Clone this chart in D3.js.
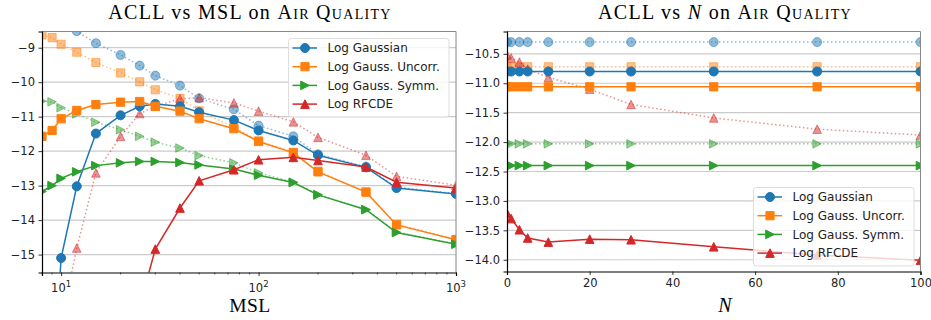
<!DOCTYPE html>
<html>
<head>
<meta charset="utf-8">
<script src="https://cdn.jsdelivr.net/npm/d3@7"></script>
<style>
  body { margin: 0; background: #fff; }
  svg { display: block; }
</style>
</head>
<body>
<svg id="chart" width="931" height="320"></svg>
<script>
// ---- data ----
var msl = [8, 9, 10, 12, 15, 20, 25, 30, 40, 50, 75, 100, 150, 200, 350, 500, 1000];

var gaussMsl    = [null, -19.0, -15.10, -13.02, -11.49, -10.96, -10.70, -10.63, -10.70, -10.87, -11.10, -11.40, -11.69, -12.12, -12.47, -13.07, -13.24];
var gaussMslDot = [-7.9, -8.0, -8.2, -8.52, -8.87, -9.21, -9.52, -9.81, -10.10, -10.47, -10.79, -11.26, -11.57, -12.09, -12.45, -13.05, -13.23];
var uncMsl      = [-11.57, -11.40, -11.06, -10.82, -10.65, -10.58, -10.56, -10.70, -10.84, -11.06, -11.35, -11.72, -12.05, -12.60, -13.19, -14.14, -14.57];
var uncMslDot   = [-8.63, -8.71, -8.90, -9.13, -9.43, -9.73, -9.99, -10.22, -10.47, -10.83, -11.30, -11.70, -12.03, -12.58, -13.18, -14.12, -14.56];
var symMsl      = [-13.17, -13.00, -12.79, -12.60, -12.42, -12.34, -12.30, -12.30, -12.33, -12.40, -12.52, -12.70, -12.91, -13.27, -13.70, -14.36, -14.70];
var symMslDot   = [-10.55, -10.57, -10.74, -10.92, -11.16, -11.38, -11.57, -11.74, -11.91, -12.13, -12.34, -12.63, -12.90, -13.26, -13.69, -14.35, -14.69];
var rfcdeMsl    = [null, null, null, null, null, null, -16.5, -14.84, -13.65, -12.86, -12.54, -12.25, -12.18, -12.27, -12.46, -12.90, -13.07];
var rfcdeMslDot = [null, null, -17.0, -14.81, -12.63, -11.57, -10.91, -10.70, -10.48, -10.45, -10.60, -10.84, -11.15, -11.60, -12.12, -12.73, -12.99];

var nVals = [0, 1, 3, 5, 10, 20, 30, 50, 75, 100];

var gaussN    = [-10.80, -10.80, -10.80, -10.80, -10.80, -10.80, -10.80, -10.80, -10.80, -10.80];
var gaussNDot = [-10.30, -10.30, -10.30, -10.30, -10.30, -10.30, -10.30, -10.30, -10.30, -10.30];
var uncN      = [-11.06, -11.06, -11.06, -11.06, -11.06, -11.06, -11.06, -11.06, -11.06, -11.06];
var uncNDot   = [-10.72, -10.72, -10.72, -10.72, -10.72, -10.72, -10.72, -10.72, -10.72, -10.72];
var symN      = [-12.40, -12.40, -12.40, -12.40, -12.40, -12.40, -12.40, -12.40, -12.40, -12.40];
var symNDot   = [-12.03, -12.03, -12.03, -12.03, -12.03, -12.03, -12.03, -12.03, -12.03, -12.03];
var rfcdeN    = [-13.21, -13.30, -13.49, -13.63, -13.70, -13.65, -13.66, -13.78, -13.92, -14.01];
var rfcdeNDot = [-10.52, -10.57, -10.64, -10.76, -10.90, -11.10, -11.36, -11.59, -11.78, -11.88];

var names = ["Log Gaussian", "Log Gauss. Uncorr.", "Log Gauss. Symm.", "Log RFCDE"];
var colors = ["#1f77b4", "#ff7f0e", "#2ca02c", "#d62728"];
var shapes = ["circle", "square", "triRight", "triUp"];

var leftTicksY = [-9, -10, -11, -12, -13, -14, -15];
var rightTicksY = [-10.5, -11.0, -11.5, -12.0, -12.5, -13.0, -13.5, -14.0];
var rightTicksX = [0, 20, 40, 60, 80, 100];

var svg = d3.select("#chart");
var tickFont = "'DejaVu Sans', sans-serif";
var serif = "'Liberation Serif', serif";

// marker shapes, roughly matplotlib markersize 8
function markerPath(shape) {
  if (shape == "circle") return d3.symbol(d3.symbolCircle, 64)();
  if (shape == "square") return "M-4.1,-4.1H4.1V4.1H-4.1Z";
  if (shape == "triRight") return "M4.3,0L-4.3,-4.3L-4.3,4.3Z";
  return "M0,-4.3L4.3,4.3L-4.3,4.3Z";
}

function drawPanel(opt) {
  var g = svg.append("g");
  var x = opt.x, y = opt.y;
  var x0 = x.range()[0], x1 = x.range()[1];
  var y0 = y.range()[1], y1 = y.range()[0];

  var clipId = "clip" + opt.id;
  svg.append("clipPath").attr("id", clipId)
    .append("rect").attr("x", x0).attr("y", y0).attr("width", x1 - x0).attr("height", y1 - y0);

  // grid
  g.append("g").selectAll("line").data(opt.yTicks).join("line")
    .attr("x1", x0).attr("x2", x1)
    .attr("y1", d => y(d)).attr("y2", d => y(d))
    .attr("stroke", "#cbcbcb").attr("stroke-width", 1.2);

  var plot = g.append("g").attr("clip-path", "url(#" + clipId + ")");

  var line = d3.line()
    .defined(d => d[1] != null)
    .x(d => x(d[0])).y(d => y(d[1]));

  function series(xs, ys, i, dotted) {
    var pts = xs.map((v, k) => [v, ys[k]]);
    var op = dotted ? 0.5 : 1;
    plot.append("path")
      .attr("d", line(pts))
      .attr("fill", "none")
      .attr("stroke", colors[i])
      .attr("stroke-opacity", op)
      .attr("stroke-width", 1.5)
      .attr("stroke-dasharray", dotted ? "1.5,2.5" : null);
    plot.append("g").selectAll("path").data(pts.filter(d => d[1] != null)).join("path")
      .attr("transform", d => "translate(" + x(d[0]) + "," + y(d[1]) + ")")
      .attr("d", markerPath(shapes[i]))
      .attr("fill", colors[i]).attr("fill-opacity", op)
      .attr("stroke", colors[i]).attr("stroke-opacity", op).attr("stroke-width", 1);
  }

  opt.dotted.forEach((s, i) => series(opt.xs, s, i, true));
  opt.solid.forEach((s, i) => series(opt.xs, s, i, false));

  // spines
  g.append("line").attr("x1", x0).attr("x2", x1).attr("y1", y0).attr("y2", y0).attr("stroke", "#888").attr("stroke-width", 1);
  g.append("line").attr("x1", x1).attr("x2", x1).attr("y1", y0).attr("y2", y1).attr("stroke", "#888").attr("stroke-width", 1);

  // axes
  var yAxis = d3.axisLeft(y).tickValues(opt.yTicks).tickSize(3.5).tickPadding(3.5).tickFormat(opt.yFormat);
  var ya = g.append("g").attr("transform", "translate(" + x0 + ",0)").call(yAxis);
  ya.select(".domain").attr("stroke", "#000").attr("stroke-width", 1.2);
  ya.selectAll("text").attr("font-family", tickFont).attr("font-size", 11.5).attr("fill", "#222");
  ya.selectAll(".tick line").attr("stroke", "#000").attr("stroke-width", 0.8);

  var xa = g.append("g").attr("transform", "translate(0," + y1 + ")");
  opt.drawX(xa);
  xa.select(".domain").attr("stroke", "#000").attr("stroke-width", 1.2);
  xa.selectAll(".tick line").attr("stroke", "#000").attr("stroke-width", 0.8);
  xa.selectAll("text").attr("font-family", tickFont).attr("font-size", 11.5).attr("fill", "#222");

  // legend
  var lg = g.append("g").attr("transform", "translate(" + opt.legend[0] + "," + opt.legend[1] + ")");
  lg.append("rect").attr("width", 160.5).attr("height", 78.5).attr("rx", 3)
    .attr("fill", "#fff").attr("fill-opacity", 0.8).attr("stroke", "#ddd").attr("stroke-width", 1);
  names.forEach((nm, i) => {
    var ly = 9.5 + i * 18.7;
    lg.append("line").attr("x1", 4).attr("x2", 28.5).attr("y1", ly).attr("y2", ly)
      .attr("stroke", colors[i]).attr("stroke-width", 1.5);
    lg.append("path").attr("transform", "translate(16.5," + ly + ")").attr("d", markerPath(shapes[i]))
      .attr("fill", colors[i]).attr("stroke", colors[i]);
    lg.append("text").attr("x", 39).attr("y", ly).attr("dy", "0.35em")
      .attr("font-family", tickFont).attr("font-size", 12).attr("fill", "#222").text(nm);
  });
}

// ---- left panel: MSL (log) ----
var xL = d3.scaleLog().domain([8, 1000]).range([42, 456]);
var yL = d3.scaleLinear().domain([-15.52, -8.53]).range([272.5, 31.5]);

drawPanel({
  id: "L", x: xL, y: yL, xs: msl,
  solid: [gaussMsl, uncMsl, symMsl, rfcdeMsl],
  dotted: [gaussMslDot, uncMslDot, symMslDot, rfcdeMslDot],
  yTicks: leftTicksY, yFormat: d3.format("d"),
  legend: [288.5, 38.5],
  drawX: function(xa) {
    var majors = [10, 100, 1000];
    var minors = [];
    [1, 10, 100].forEach(b => d3.range(2, 10).forEach(m => { if (b * m >= 8) minors.push(b * m); }));
    xa.call(d3.axisBottom(xL).tickValues(majors).tickSize(3.5).tickPadding(3.5).tickFormat(""));
    xa.append("g").selectAll("line").data(minors).join("line")
      .attr("x1", d => xL(d)).attr("x2", d => xL(d)).attr("y1", 0).attr("y2", 2)
      .attr("stroke", "#000").attr("stroke-width", 0.6);
    var lab = xa.append("g").selectAll("text").data(majors).join("text")
      .attr("x", d => xL(d)).attr("y", 19.5).attr("text-anchor", "middle");
    lab.append("tspan").text("10");
    lab.append("tspan").attr("dy", -5).attr("font-size", 8.5).text(d => Math.round(Math.log10(d)));
  }
});

// ---- right panel: N ----
var xR = d3.scaleLinear().domain([0, 100]).range([507, 920.5]);
var yR = d3.scaleLinear().domain([-14.2, -10.12]).range([271.5, 31.5]);

drawPanel({
  id: "R", x: xR, y: yR, xs: nVals,
  solid: [gaussN, uncN, symN, rfcdeN],
  dotted: [gaussNDot, uncNDot, symNDot, rfcdeNDot],
  yTicks: rightTicksY, yFormat: d3.format(".1f"),
  legend: [753.5, 187.5],
  drawX: function(xa) {
    xa.call(d3.axisBottom(xR).tickValues(rightTicksX).tickSize(3.5).tickPadding(3.5));
  }
});

// ---- titles and axis labels ----
function title(cx, parts) {
  var t = svg.append("text").attr("x", cx).attr("y", 19).attr("text-anchor", "middle")
    .attr("font-family", serif).attr("font-size", 20).attr("letter-spacing", 1.3).attr("fill", "#000");
  parts.forEach(p => {
    var s = t.append("tspan").text(p[0]);
    if (p[1] == "sc") s.attr("font-variant", "small-caps");
    if (p[1] == "it") s.attr("font-style", "italic");
  });
}
title(250, [["ACLL vs MSL on "], ["Air Quality", "sc"]]);
title(725, [["ACLL vs "], ["N", "it"], [" on "], ["Air Quality", "sc"]]);

svg.append("text").attr("x", 250).attr("y", 312).attr("text-anchor", "middle")
  .attr("font-family", serif).attr("font-size", 19.5).attr("letter-spacing", 0.5).text("MSL");
svg.append("text").attr("x", 725).attr("y", 312).attr("text-anchor", "middle")
  .attr("font-family", serif).attr("font-size", 20).attr("font-style", "italic").text("N");
</script>
</body>
</html>
